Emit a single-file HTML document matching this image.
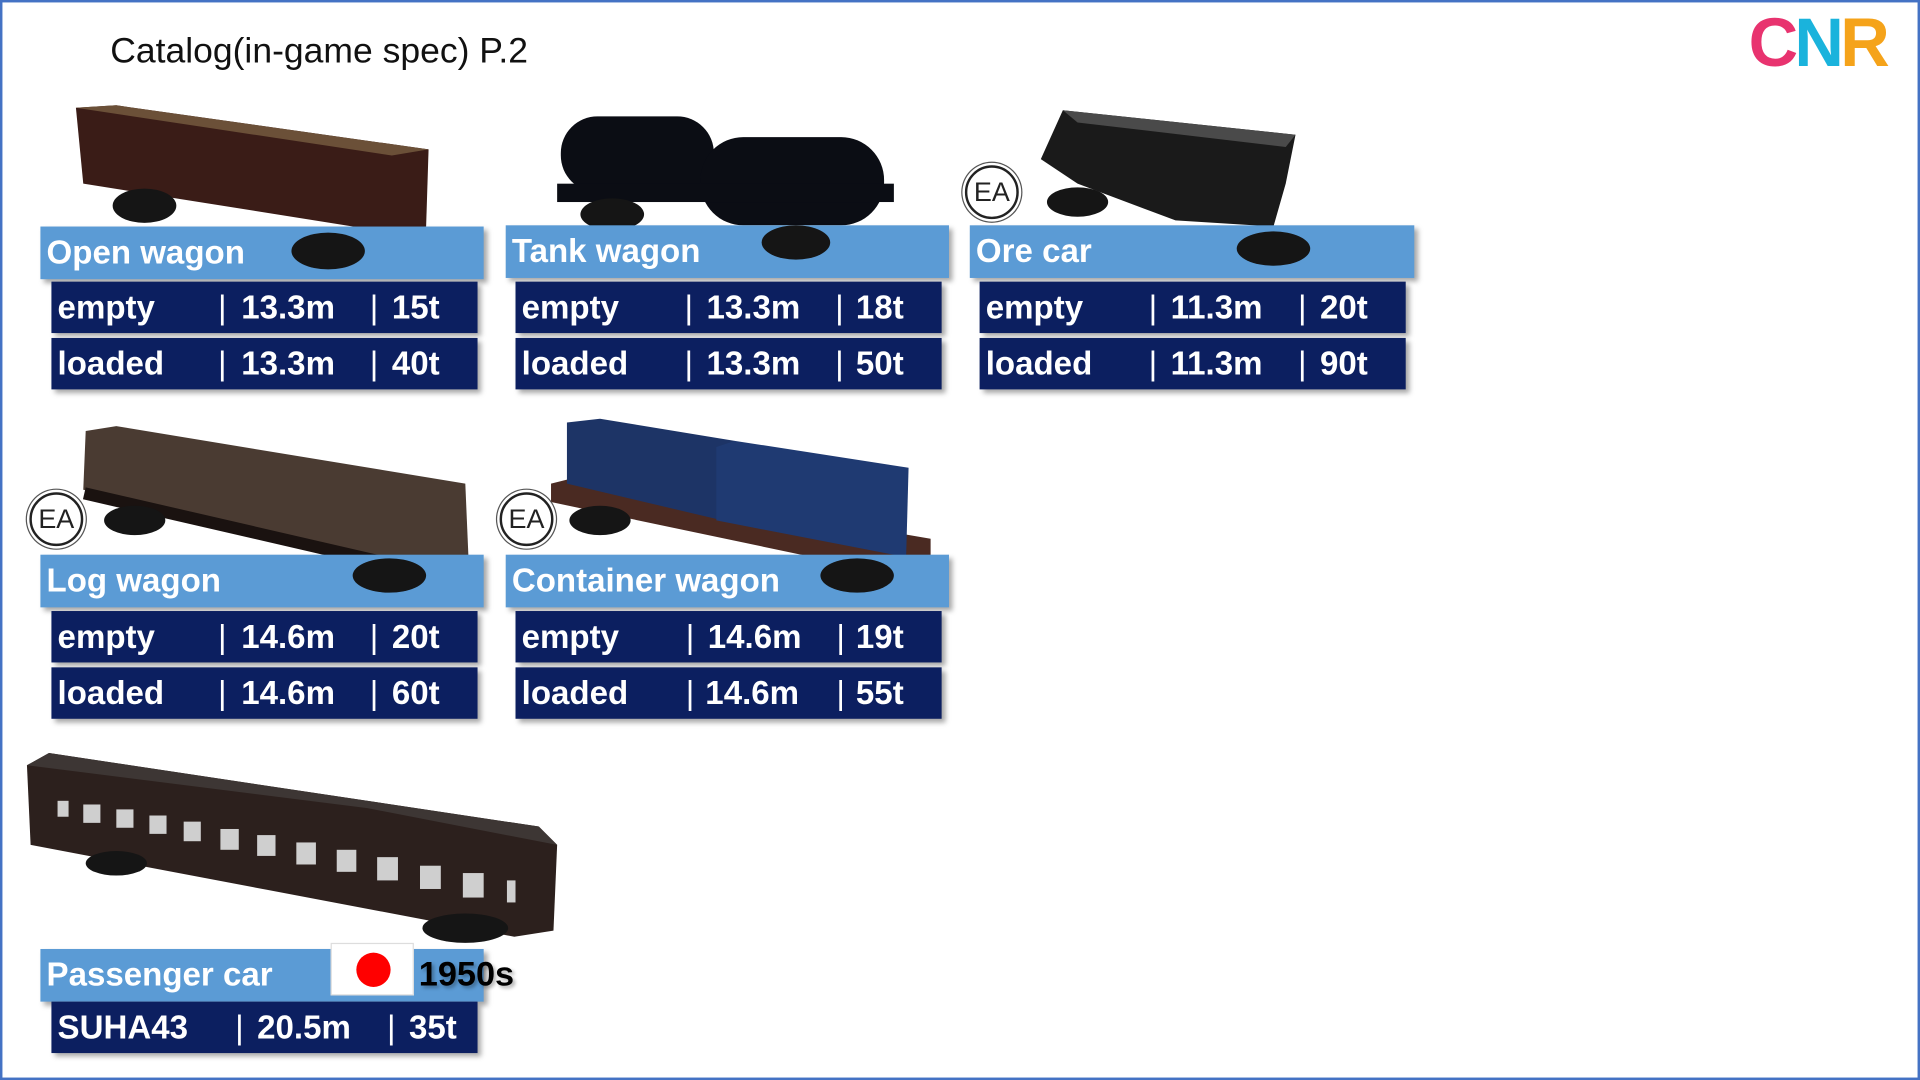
<!DOCTYPE html>
<html><head><meta charset="utf-8"><style>
html,body{margin:0;padding:0;background:#fff;overflow:hidden;width:1920px;height:1080px}
#s{position:absolute;left:0;top:0;width:1568px;height:882px;transform:scale(1.22449);transform-origin:0 0;font-family:"Liberation Sans","Noto Sans CJK JP",sans-serif}
.frame{position:absolute;left:0;top:0;width:1564px;height:878px;border:2px solid #4472c4}
.lbl{position:absolute;background:#5b9bd5;color:#fff;font-size:27px;font-weight:bold;line-height:43px;padding-left:5px;box-sizing:border-box;box-shadow:3px 3px 4px rgba(0,0,0,.35)}
.row{position:absolute;background:#0c1f60;color:#fff;font-size:27px;font-weight:bold;height:42px;line-height:42px;box-shadow:3px 3px 4px rgba(0,0,0,.35);width:348px}
.row span{position:absolute;top:0}
.row span.b{font-weight:normal}
.ea{position:absolute;width:44px;height:44px;border-radius:50%;border:2px solid #222;box-sizing:border-box;background:#fff;text-align:center;line-height:40px;font-size:22px;color:#222;box-shadow:0 0 0 2px #fff,0 0 0 3px #555}
svg{position:absolute;left:0;top:0}
</style></head><body><div id="s">
<div class="frame"></div>
<div style="position:absolute;left:90px;top:26px;font-size:29px;color:#111">Catalog(in-game spec) P.2</div>
<div style="position:absolute;left:1428px;top:2px;font-size:56px;font-weight:bold;letter-spacing:-3px"><span style="color:#e8336f">C</span><span style="color:#1ab3dc">N</span><span style="color:#f5a31a">R</span></div>

<svg width="1568" height="882">
<!-- open wagon -->
<polygon points="62,88 95,86 350,122 348,185 320,190 68,150" fill="#3a1c17"/>
<polygon points="62,88 95,86 350,122 320,127" fill="#6b5038"/>
<!-- tank -->
<g fill="#0b0d14"><rect x="458" y="95" width="125" height="62" rx="30"/><rect x="572" y="112" width="150" height="72" rx="35"/><rect x="455" y="150" width="275" height="15"/></g>
<!-- ore -->
<polygon points="868,90 1058,110 1050,150 1040,185 960,180 880,150 850,130" fill="#1a1a1a"/>
<polygon points="868,90 1058,110 1050,120 880,100" fill="#4a4a4a"/>
<!-- log -->
<polygon points="70,352 95,348 380,395 383,465 360,470 68,400" fill="#4a3b32"/>
<g fill="#1a1210"><rect x="70" y="398" width="315" height="10" transform="rotate(13 70 398)"/></g>
<!-- container -->
<polygon points="450,395 470,390 760,440 760,470 735,470 450,410" fill="#4a2a22"/>
<polygon points="463,345 490,342 600,360 590,425 463,395" fill="#1d3466"/>
<polygon points="585,365 600,360 742,382 740,455 585,425" fill="#1f3a72"/>
<!-- passenger -->
<polygon points="22,625 40,615 440,675 455,690 452,760 420,765 25,690" fill="#2c201d"/>
<polygon points="22,625 40,615 440,675 455,690 300,660" fill="#3d3634"/>
<g fill="#cfcfcf">
<rect x="47" y="654" width="9" height="13"/><rect x="68" y="657" width="14" height="15"/><rect x="95" y="661" width="14" height="15"/><rect x="122" y="666" width="14" height="15"/><rect x="150" y="671" width="14" height="16"/><rect x="180" y="677" width="15" height="17"/><rect x="210" y="682" width="15" height="17"/><rect x="242" y="688" width="16" height="18"/><rect x="275" y="694" width="16" height="18"/><rect x="308" y="700" width="17" height="19"/><rect x="343" y="707" width="17" height="19"/><rect x="378" y="713" width="17" height="20"/><rect x="414" y="719" width="7" height="18"/></g>
<g fill="#151515"><ellipse cx="118" cy="168" rx="26" ry="14"/><ellipse cx="500" cy="175" rx="26" ry="13"/><ellipse cx="880" cy="165" rx="25" ry="12"/><ellipse cx="110" cy="425" rx="25" ry="12"/><ellipse cx="490" cy="425" rx="25" ry="12"/><ellipse cx="95" cy="705" rx="25" ry="10"/><ellipse cx="380" cy="758" rx="35" ry="12"/></g>
</svg>

<div class="ea" style="left:788px;top:135px">EA</div>
<div class="ea" style="left:24px;top:402px">EA</div>
<div class="ea" style="left:408px;top:402px">EA</div>

<div class="lbl" style="left:33px;top:185px;width:362px">Open wagon</div>
<div class="row" style="left:42px;top:230px"><span style="left:5px">empty</span><span class="b" style="left:136px">|</span><span style="left:155px">13.3m</span><span class="b" style="left:260px">|</span><span style="left:278px">15t</span></div>
<div class="row" style="left:42px;top:276px"><span style="left:5px">loaded</span><span class="b" style="left:136px">|</span><span style="left:155px">13.3m</span><span class="b" style="left:260px">|</span><span style="left:278px">40t</span></div>

<div class="lbl" style="left:413px;top:184px;width:362px">Tank wagon</div>
<div class="row" style="left:421px;top:230px"><span style="left:5px">empty</span><span class="b" style="left:138px">|</span><span style="left:156px">13.3m</span><span class="b" style="left:261px">|</span><span style="left:278px">18t</span></div>
<div class="row" style="left:421px;top:276px"><span style="left:5px">loaded</span><span class="b" style="left:138px">|</span><span style="left:156px">13.3m</span><span class="b" style="left:261px">|</span><span style="left:278px">50t</span></div>

<div class="lbl" style="left:792px;top:184px;width:363px">Ore car</div>
<div class="row" style="left:800px;top:230px"><span style="left:5px">empty</span><span class="b" style="left:138px">|</span><span style="left:156px">11.3m</span><span class="b" style="left:260px">|</span><span style="left:278px">20t</span></div>
<div class="row" style="left:800px;top:276px"><span style="left:5px">loaded</span><span class="b" style="left:138px">|</span><span style="left:156px">11.3m</span><span class="b" style="left:260px">|</span><span style="left:278px">90t</span></div>

<div class="lbl" style="left:33px;top:453px;width:362px">Log wagon</div>
<div class="row" style="left:42px;top:499px"><span style="left:5px">empty</span><span class="b" style="left:136px">|</span><span style="left:155px">14.6m</span><span class="b" style="left:260px">|</span><span style="left:278px">20t</span></div>
<div class="row" style="left:42px;top:545px"><span style="left:5px">loaded</span><span class="b" style="left:136px">|</span><span style="left:155px">14.6m</span><span class="b" style="left:260px">|</span><span style="left:278px">60t</span></div>

<div class="lbl" style="left:413px;top:453px;width:362px">Container wagon</div>
<div class="row" style="left:421px;top:499px"><span style="left:5px">empty</span><span class="b" style="left:139px">|</span><span style="left:157px">14.6m</span><span class="b" style="left:262px">|</span><span style="left:278px">19t</span></div>
<div class="row" style="left:421px;top:545px"><span style="left:5px">loaded</span><span class="b" style="left:139px">|</span><span style="left:155px">14.6m</span><span class="b" style="left:262px">|</span><span style="left:278px">55t</span></div>

<div class="lbl" style="left:33px;top:775px;width:362px">Passenger car</div>
<div style="position:absolute;left:270px;top:770px;width:68px;height:43px;background:#fff;border:1px solid #ddd;box-sizing:border-box"><div style="position:absolute;left:20px;top:7px;width:28px;height:28px;border-radius:50%;background:#f00"></div></div>
<div style="position:absolute;left:342px;top:780px;font-size:28px;font-weight:bold;color:#000;text-shadow:2px 2px 3px rgba(0,0,0,.3)">1950s</div>
<div class="row" style="left:42px;top:818px"><span style="left:5px">SUHA43</span><span class="b" style="left:150px">|</span><span style="left:168px">20.5m</span><span class="b" style="left:274px">|</span><span style="left:292px">35t</span></div>

<svg width="1568" height="882" style="pointer-events:none">
<g fill="#151515"><ellipse cx="268" cy="205" rx="30" ry="15"/><ellipse cx="650" cy="198" rx="28" ry="14"/><ellipse cx="1040" cy="203" rx="30" ry="14"/><ellipse cx="318" cy="470" rx="30" ry="14"/><ellipse cx="700" cy="470" rx="30" ry="14"/></g>
</svg>
</div></body></html>
